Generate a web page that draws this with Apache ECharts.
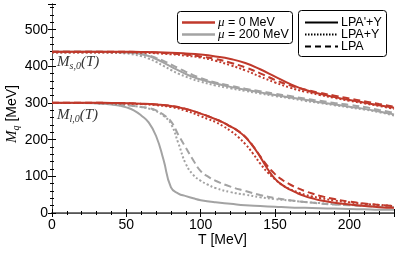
<!DOCTYPE html>
<html><head><meta charset="utf-8">
<script src="https://cdn.jsdelivr.net/npm/echarts@6/dist/echarts.min.js"></script>
<style>html,body{margin:0;padding:0;background:#fff}#c{width:399px;height:253px}</style>
</head><body><div id="c"></div>
<script>
// Tick labels
const xTicks = [0, 50, 100, 150, 200];
const yTicks = [0, 100, 200, 300, 400, 500];
const legendMu = ['\u03bc', ' = 0 MeV', ' = 200 MeV'];
const legendTrunc = ["LPA'+Y", 'LPA+Y', 'LPA'];

// Strange quark mass, mu = 0
const sMu0Solid  = [[0,440],[20,440],[40,440],[60,439],[80,437],[90,435],[100,432],[110,427],[120,420],[130,409],[140,392],[150,372],[160,352],[170,336],[180,325],[190,316],[200,308],[210,301],[220,294],[230,287]];
const sMu0Dotted = [[0,438],[20,438],[40,438],[60,437],[80,433],[90,429],[100,424],[110,415],[120,403],[130,389],[140,372],[150,356],[160,342],[170,331],[180,322],[190,314],[200,306],[210,299],[220,292],[230,284]];
const sMu0Dashed = [[0,440],[20,440],[40,440],[60,439],[80,435],[90,432],[100,427],[110,420],[120,410],[130,397],[140,381],[150,363],[160,348],[170,337],[180,328],[190,320],[200,312],[210,305],[220,297],[230,290]];
// Strange quark mass, mu = 200
const sMu200Solid  = [[0,440],[20,440],[40,439],[50,438],[55,436],[60,433],[65,428],[70,420],[75,410],[80,399],[85,389],[90,379],[95,371],[100,364],[110,353],[120,344],[130,336],[140,329],[150,322],[160,315],[170,309],[180,302],[190,296],[200,290],[210,284],[220,277],[230,269]];
const sMu200Dotted = [[0,438],[20,438],[40,437],[50,435],[55,432],[60,428],[65,421],[70,412],[75,401],[80,390],[85,380],[90,372],[95,364],[100,358],[110,348],[120,340],[130,333],[140,326],[150,319],[160,313],[170,306],[180,300],[190,294],[200,288],[210,282],[220,275],[230,266]];
const sMu200Dashed = [[0,440],[20,440],[40,439],[50,438],[55,437],[60,434],[65,430],[70,423],[75,415],[80,405],[85,395],[90,385],[95,376],[100,368],[110,356],[120,347],[130,339],[140,332],[150,325],[160,319],[170,312],[180,306],[190,300],[200,295],[210,289],[220,281],[230,273]];
// Light quark mass, mu = 0
const lMu0Solid  = [[0,301],[20,301],[40,300],[60,298],[70,296],[80,292],[90,284],[100,271],[105,264],[110,256],[115,247],[120,236],[125,224],[130,207],[135,183],[140,153],[145,120],[150,93],[155,76],[160,64],[165,54],[170,46],[175,40],[180,35],[190,28],[200,23],[210,19],[220,16],[230,14]];
const lMu0Dotted = [[0,300],[20,300],[40,299],[60,297],[70,294],[80,289],[90,279],[100,264],[105,256],[110,248],[115,237],[120,224],[125,208],[130,188],[135,163],[140,135],[145,111],[150,92],[155,76],[160,65],[165,57],[170,50],[175,45],[180,41],[190,34],[200,29],[210,25],[220,22],[230,19]];
const lMu0Dashed = [[0,301],[20,301],[40,300],[60,298],[70,296],[80,292],[90,284],[100,271],[105,264],[110,256],[115,247],[120,236],[125,224],[130,208],[135,184],[140,155],[145,128],[150,106],[155,90],[160,78],[165,68],[170,60],[175,53],[180,47],[190,38],[200,31],[210,26],[220,22],[230,19]];
// Light quark mass, mu = 200
const lMu200Solid  = [[0,300],[10,300],[20,300],[30,299],[40,296],[45,293],[50,288],[55,280],[60,266],[65,247],[70,210],[75,145],[80,70],[85,53],[90,46],[95,40],[100,35],[110,29],[120,25],[130,21],[140,19],[150,17],[160,15],[170,14],[180,13],[190,12],[200,11],[210,10],[220,9],[230,9]];
const lMu200Dotted = [[0,300],[20,300],[40,297],[50,294],[60,289],[65,285],[70,278],[75,265],[80,243],[85,190],[90,134],[95,104],[100,88],[105,77],[110,68],[120,57],[130,50],[140,43],[150,38],[160,34],[170,30],[180,27],[190,24],[200,22],[210,20],[220,18],[230,16]];
const lMu200Dashed = [[0,300],[20,300],[40,297],[50,294],[60,289],[65,286],[70,280],[75,268],[80,250],[85,213],[90,178],[95,144],[100,114],[105,99],[110,88],[120,72],[130,60],[140,49],[150,41],[160,35],[170,30],[180,26],[190,23],[200,21],[210,19],[220,17],[230,16]];

const RED = '#c0392b', GRAY = '#a3a3a3';
const SOLID = 'solid', DOT = [2, 2.2], DASH = [7, 4];

function mk(data, color, type) {
  return { type: 'line', data: data, showSymbol: false, smooth: 0.5,
    lineStyle: { color: color, width: 2, type: type }, silent: true, animation: false, z: color === RED ? 3 : 2 };
}

const chart = echarts.init(document.getElementById('c'));
const tickCommon = { inside: true, length: 4, lineStyle: { color: '#000', width: 1 } };
const minorCommon = { show: true, splitNumber: 5, length: 2, lineStyle: { color: '#000', width: 1 } };
const axisFont = { fontFamily: 'Liberation Sans, Arial, sans-serif', fontSize: 14, color: '#000' };
const SANS = '"Liberation Sans", Arial, sans-serif';
const SERIF = '"Liberation Serif", serif';

chart.setOption({
  animation: false,
  grid: { left: 52, right: 5, top: 4, bottom: 40, containLabel: false },
  xAxis: [
    { type: 'value', min: 0, max: 230, interval: 50, position: 'bottom',
      axisLine: { lineStyle: { color: '#777', width: 2 } },
      axisTick: tickCommon, minorTick: minorCommon, splitLine: { show: false },
      axisLabel: Object.assign({ margin: 5, showMaxLabel: false,
        formatter: v => xTicks.indexOf(v) >= 0 ? String(v) : '' }, axisFont) },
    { type: 'value', min: 0, max: 230, interval: 50, position: 'top',
      axisLine: { lineStyle: { color: '#555', width: 1 } },
      axisTick: tickCommon, minorTick: minorCommon, splitLine: { show: false }, axisLabel: { show: false } }
  ],
  yAxis: [
    { type: 'value', min: 0, max: 570, interval: 100, position: 'left',
      axisLine: { show: true, lineStyle: { color: '#000', width: 1 } },
      axisTick: tickCommon, minorTick: minorCommon, splitLine: { show: false },
      axisLabel: Object.assign({ margin: 4, showMaxLabel: false,
        formatter: v => yTicks.indexOf(v) >= 0 ? String(v) : '' }, axisFont) },
    { type: 'value', min: 0, max: 570, interval: 100, position: 'right',
      axisLine: { show: true, lineStyle: { color: '#555', width: 1 } },
      axisTick: tickCommon, minorTick: minorCommon, splitLine: { show: false }, axisLabel: { show: false } }
  ],
  series: [
    mk(sMu200Solid, GRAY, SOLID), mk(sMu200Dotted, GRAY, DOT), mk(sMu200Dashed, GRAY, DASH),
    mk(lMu200Solid, GRAY, SOLID), mk(lMu200Dotted, GRAY, DOT), mk(lMu200Dashed, GRAY, DASH),
    mk(sMu0Solid, RED, SOLID), mk(sMu0Dotted, RED, DOT), mk(sMu0Dashed, RED, DASH),
    mk(lMu0Solid, RED, SOLID), mk(lMu0Dotted, RED, DOT), mk(lMu0Dashed, RED, DASH)
  ],
  graphic: [
    // axis titles
    { type: 'text', left: 198, top: 233, style: { text: 'T [MeV]', font: '14px ' + SANS, fill: '#000' } },
    { type: 'text', x: 4, y: 143, rotation: Math.PI / 2, style: {
        text: '{m|M}{s|q}{n| [MeV]}', fill: '#000',
        rich: { m: { font: 'italic 15px ' + SERIF },
                s: { font: 'italic 10px ' + SERIF, padding: [7, 0, 0, 0] },
                n: { font: '14px ' + SANS } } } },
    // annotations
    { type: 'text', left: 57, top: 55, style: {
        text: '{m|M}{s|s,0}{m|(T)}', fill: '#333',
        rich: { m: { font: 'italic 15px ' + SERIF, fill: '#333' },
                s: { font: 'italic 10px ' + SERIF, fill: '#333', padding: [8, 0, 0, 0] } } } },
    { type: 'text', left: 57, top: 108, style: {
        text: '{m|M}{s|l,0}{m|(T)}', fill: '#333',
        rich: { m: { font: 'italic 15px ' + SERIF, fill: '#333' },
                s: { font: 'italic 10px ' + SERIF, fill: '#333', padding: [8, 0, 0, 0] } } } },
    // legend box 1
    { type: 'rect', shape: { x: 177.5, y: 11.5, width: 115, height: 32, r: 3 }, style: { fill: '#fff', stroke: '#000', lineWidth: 1 }, z: 10 },
    { type: 'line', shape: { x1: 182, y1: 22.5, x2: 215, y2: 22.5 }, style: { stroke: RED, lineWidth: 2.5 }, z: 11 },
    { type: 'line', shape: { x1: 182, y1: 34.5, x2: 215, y2: 34.5 }, style: { stroke: GRAY, lineWidth: 2.5 }, z: 11 },
    { type: 'text', x: 218, y: 16, z: 11, style: { text: '{i|' + legendMu[0] + '}' + legendMu[1], fill: '#000', font: '12.5px ' + SANS,
        rich: { i: { font: 'italic 13px ' + SERIF } } } },
    { type: 'text', x: 218, y: 28, z: 11, style: { text: '{i|' + legendMu[0] + '}' + legendMu[2], fill: '#000', font: '12.5px ' + SANS,
        rich: { i: { font: 'italic 13px ' + SERIF } } } },
    // legend box 2
    { type: 'rect', shape: { x: 298.5, y: 10.5, width: 88, height: 46, r: 3 }, style: { fill: '#fff', stroke: '#000', lineWidth: 1 }, z: 10 },
    { type: 'line', shape: { x1: 305, y1: 22.5, x2: 338, y2: 22.5 }, style: { stroke: '#000', lineWidth: 1.8 }, z: 11 },
    { type: 'line', shape: { x1: 305, y1: 34.5, x2: 338, y2: 34.5 }, style: { stroke: '#000', lineWidth: 1.8, lineDash: [1.5, 1.5] }, z: 11 },
    { type: 'line', shape: { x1: 305, y1: 46.5, x2: 338, y2: 46.5 }, style: { stroke: '#000', lineWidth: 1.8, lineDash: [6, 4] }, z: 11 },
    { type: 'text', x: 341, y: 16, z: 11, style: { text: legendTrunc[0], fill: '#000', font: '12.5px ' + SANS } },
    { type: 'text', x: 341, y: 28, z: 11, style: { text: legendTrunc[1], fill: '#000', font: '12.5px ' + SANS } },
    { type: 'text', x: 341, y: 40, z: 11, style: { text: legendTrunc[2], fill: '#000', font: '12.5px ' + SANS } }
  ]
});
</script></body></html>
